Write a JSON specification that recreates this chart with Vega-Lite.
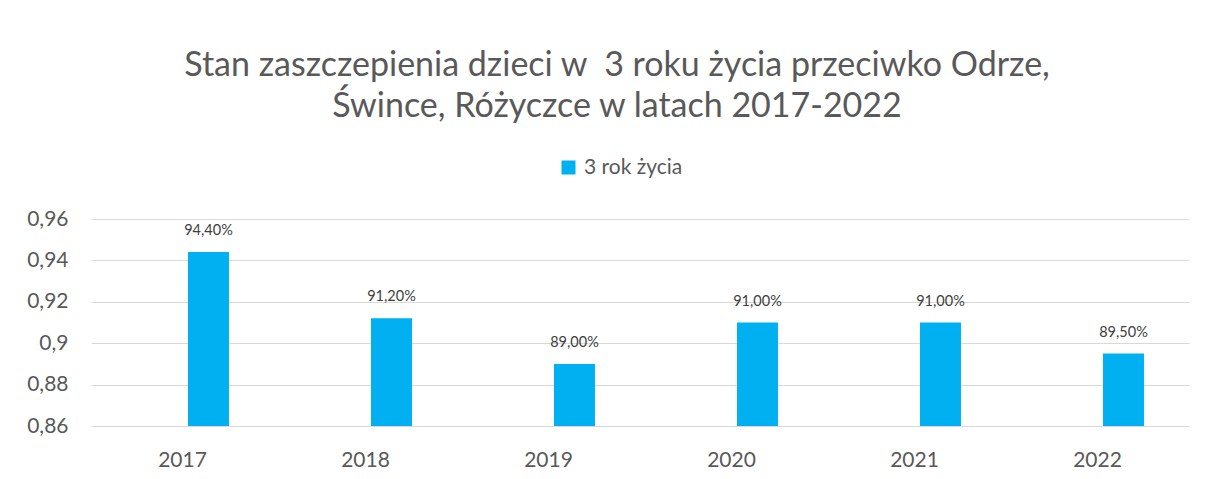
{
  "$schema": "https://vega.github.io/schema/vega-lite/v6.json",
  "autosize": {"type": "none"},
  "width": 1098,
  "height": 207,
  "padding": {"left": 91, "top": 219, "right": 18, "bottom": 53},
  "background": "white",
  "title": {
    "text": ["Stan zaszczepienia dzieci w\u00a0 3 roku życia przeciwko Odrze,", "Śwince, Różyczce w latach 2017-2022"],
    "font": "Lato",
    "fontSize": 34,
    "fontWeight": "normal",
    "color": "#595959",
    "anchor": "middle",
    "dx": -23,
    "offset": 33,
    "lineHeight": 41
  },
  "data": {
    "values": [
      {"rok": "2017", "seria": "3 rok życia", "wartosc": 0.944},
      {"rok": "2018", "seria": "3 rok życia", "wartosc": 0.912},
      {"rok": "2019", "seria": "3 rok życia", "wartosc": 0.89},
      {"rok": "2020", "seria": "3 rok życia", "wartosc": 0.91},
      {"rok": "2021", "seria": "3 rok życia", "wartosc": 0.91},
      {"rok": "2022", "seria": "3 rok życia", "wartosc": 0.895}
    ]
  },
  "encoding": {
    "x": {
      "field": "rok",
      "type": "nominal",
      "scale": {"paddingInner": 0.492, "paddingOuter": 0.246},
      "axis": {
        "title": null,
        "labelAngle": 0,
        "labelFont": "Lato",
        "labelFontSize": 21,
        "labelColor": "#595959",
        "labelPadding": 23,
        "ticks": false,
        "domain": false,
        "grid": false
      }
    },
    "xOffset": {
      "field": "seria",
      "type": "nominal",
      "scale": {"domain": ["ukryta", "3 rok życia"], "paddingInner": 0.2115, "paddingOuter": 0}
    },
    "y": {
      "field": "wartosc",
      "type": "quantitative",
      "scale": {"domain": [0.86, 0.96], "nice": false, "zero": false},
      "axis": {
        "title": null,
        "values": [0.86, 0.88, 0.9, 0.92, 0.94, 0.96],
        "format": ".2~f",
        "labelFont": "Lato",
        "labelFontSize": 21,
        "labelColor": "#595959",
        "labelPadding": 23,
        "ticks": false,
        "domain": false,
        "grid": true,
        "gridColor": "#D9D9D9",
        "gridWidth": 1
      }
    }
  },
  "layer": [
    {
      "mark": {"type": "bar", "color": "#00B0F0"},
      "encoding": {
        "y2": {"datum": 0.86},
        "color": {
          "field": "seria",
          "type": "nominal",
          "scale": {"domain": ["3 rok życia"], "range": ["#00B0F0"]},
          "legend": {
            "title": null,
            "orient": "none",
            "legendX": 467,
            "legendY": -62,
            "direction": "horizontal",
            "symbolType": "square",
            "symbolSize": 196,
            "symbolStrokeWidth": 0,
            "labelFont": "Lato",
            "labelFontSize": 21,
            "labelColor": "#595959",
            "labelOffset": 5
          }
        }
      }
    },
    {
      "mark": {"type": "text", "font": "Lato", "fontSize": 14.5, "color": "#404040", "dy": -21},
      "encoding": {
        "text": {"field": "wartosc", "type": "quantitative", "format": ".2%"}
      }
    }
  ],
  "config": {
    "locale": {"number": {"decimal": ",", "thousands": " ", "grouping": [3], "currency": ["", " zł"]}},
    "view": {"stroke": null}
  }
}
